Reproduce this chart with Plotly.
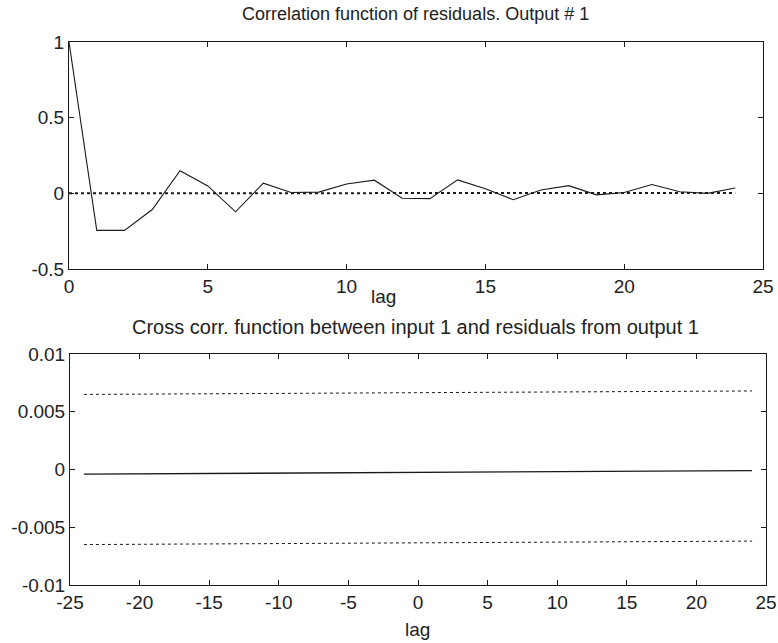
import plotly.graph_objects as go

# Top plot: autocorrelation of residuals
lags_top = list(range(0, 25))
resid_corr = [1.0, -0.245, -0.245, -0.107, 0.149, 0.049, -0.122, 0.067, 0.006, 0.008,
              0.062, 0.087, -0.032, -0.035, 0.089, 0.03, -0.042, 0.022, 0.051, -0.01,
              0.005, 0.058, 0.01, 0.0, 0.035]
conf_top_lags = [0, 24]
conf_top = [0.0, 0.003]

# Bottom plot: cross correlation input 1 / residuals
cross_lags = [-24, 24]
cross_corr = [-0.0004, -0.0001]
conf_upper = [0.0065, 0.0068]
conf_lower = [-0.0065, -0.0062]

title_top = "Correlation function of residuals. Output # 1"
title_bot = "Cross corr. function between input 1 and residuals from output 1"
xlabel = "lag"

top_xticks = [0, 5, 10, 15, 20, 25]
top_xticktext = ["0", "5", "10", "15", "20", "25"]
top_yticks = [-0.5, 0, 0.5, 1]
top_yticktext = ["-0.5", "0", "0.5", "1"]
bot_xticks = [-25, -20, -15, -10, -5, 0, 5, 10, 15, 20, 25]
bot_xticktext = ["-25", "-20", "-15", "-10", "-5", "0", "5", "10", "15", "20", "25"]
bot_yticks = [-0.01, -0.005, 0, 0.005, 0.01]
bot_yticktext = ["-0.01", "-0.005", "0", "0.005", "0.01"]

W, H = 778, 643
FONT = "Liberation Sans, Arial, sans-serif"
INK = "#1a1a1a"
TXT = "#222222"

fig = go.Figure()
fig.add_trace(go.Scatter(x=lags_top, y=resid_corr, mode="lines",
                         line=dict(color=INK, width=1.1), xaxis="x", yaxis="y"))
fig.add_trace(go.Scatter(x=conf_top_lags, y=conf_top, mode="lines",
                         line=dict(color=INK, width=2, dash="dot"), xaxis="x", yaxis="y"))
fig.add_trace(go.Scatter(x=cross_lags, y=conf_upper, mode="lines",
                         line=dict(color=INK, width=1, dash="dot"), xaxis="x2", yaxis="y2"))
fig.add_trace(go.Scatter(x=cross_lags, y=cross_corr, mode="lines",
                         line=dict(color=INK, width=1.3), xaxis="x2", yaxis="y2"))
fig.add_trace(go.Scatter(x=cross_lags, y=conf_lower, mode="lines",
                         line=dict(color=INK, width=1, dash="dot"), xaxis="x2", yaxis="y2"))

def px_dom_x(a, b):
    return [a / W, b / W]

def px_dom_y(top, bottom):
    return [1 - bottom / H, 1 - top / H]

TICKFONT = dict(family=FONT, size=19, color=TXT)
axis_common = dict(showline=True, mirror="ticks", linecolor=INK, linewidth=1,
                   ticks="inside", ticklen=5, tickcolor=INK, showgrid=False,
                   zeroline=False, automargin=False, tickfont=TICKFONT)

fig.update_layout(
    template="none",
    width=W, height=H, margin=dict(l=0, r=0, t=0, b=0, pad=0),
    paper_bgcolor="white", plot_bgcolor="white", showlegend=False,
    xaxis=dict(domain=px_dom_x(69, 763), range=[0, 25], tickvals=top_xticks,
               ticktext=top_xticktext, anchor="y", **axis_common),
    yaxis=dict(domain=px_dom_y(42, 269), range=[-0.5, 1], tickvals=top_yticks,
               ticktext=top_yticktext, anchor="x", **axis_common),
    xaxis2=dict(domain=px_dom_x(70, 766), range=[-25, 25], tickvals=bot_xticks,
                ticktext=bot_xticktext, anchor="y2", **axis_common),
    yaxis2=dict(domain=px_dom_y(354, 585), range=[-0.01, 0.01], tickvals=bot_yticks,
                ticktext=bot_yticktext, anchor="x2", **axis_common),
    annotations=[
        dict(text=title_top, x=416 / W, y=1 - 14 / H, xref="paper", yref="paper",
             xanchor="center", yanchor="middle",
             showarrow=False, font=dict(family=FONT, size=18, color=TXT)),
        dict(text=title_bot, x=416 / W, y=1 - 327 / H, xref="paper", yref="paper",
             xanchor="center", yanchor="middle",
             showarrow=False, font=dict(family=FONT, size=20, color=TXT)),
        dict(text=xlabel, x=383 / W, y=1 - 297 / H, xref="paper", yref="paper",
             xanchor="center", yanchor="middle",
             showarrow=False, font=TICKFONT),
        dict(text=xlabel, x=417 / W, y=1 - 629 / H, xref="paper", yref="paper",
             xanchor="center", yanchor="middle",
             showarrow=False, font=TICKFONT),
    ],
)

fig.write_html("out.html")
